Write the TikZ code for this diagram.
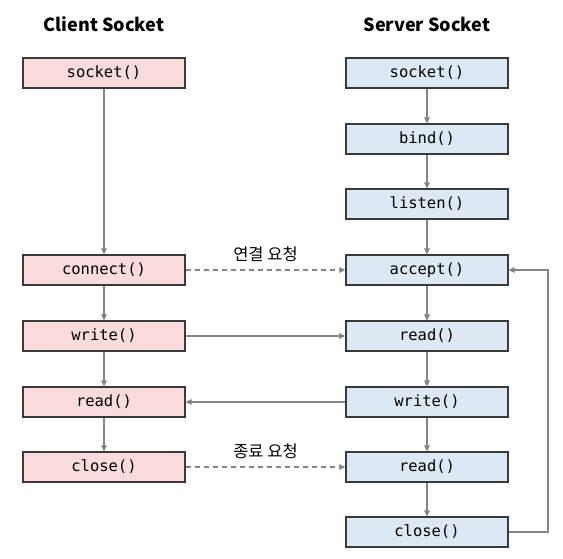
\documentclass[tikz,border=0pt]{standalone}
\usepackage{fontspec}
\setmainfont{Noto Sans CJK KR}
\newfontfamily\krfont{Noto Sans CJK KR}
\setmonofont{DejaVu Sans Mono}
\usetikzlibrary{arrows.meta}
\definecolor{cpink}{HTML}{FADBDC}
\definecolor{cblue}{HTML}{DCE8F4}
\definecolor{cborder}{HTML}{3A3A3A}
\definecolor{cline}{HTML}{858585}
\tikzset{
  fnbox/.style={draw=cborder, line width=1.1pt, minimum width=162pt, minimum height=30pt, inner sep=0pt, font=\ttfamily\fontsize{15.5}{17}\selectfont},
  cbox/.style={fnbox, fill=cpink},
  sbox/.style={fnbox, fill=cblue},
  conn/.style={draw=cline, line width=1.3pt, -{Triangle[length=6pt,width=5.5pt]}},
  dconn/.style={conn, dash pattern=on 5pt off 4pt},
  title/.style={font=\bfseries\fontsize{18}{20}\selectfont},
  lbl/.style={font=\krfont\fontsize{16.5}{18}\selectfont}
}
\begin{document}
\begin{tikzpicture}[x=1pt,y=-1pt]
\fill[white] (0,0) rectangle (563,559);
\useasboundingbox (0,0) rectangle (563,559);
\node[title] (tc) at (104,24) {Client Socket};
\node[title] (ts) at (427,24) {Server Socket};
% client
\node[cbox] (csock) at (104,73) {socket()};
\node[cbox] (cconn) at (104,270) {connect()};
\node[cbox] (cwrite) at (104,336) {write()};
\node[cbox] (cread) at (104,402) {read()};
\node[cbox] (cclose) at (104,467) {close()};
% server
\node[sbox] (ssock) at (427,73) {socket()};
\node[sbox] (sbind) at (427,139) {bind()};
\node[sbox] (slisten) at (427,204) {listen()};
\node[sbox] (saccept) at (427,270) {accept()};
\node[sbox] (sread) at (427,336) {read()};
\node[sbox] (swrite) at (427,402) {write()};
\node[sbox] (sread2) at (427,467) {read()};
\node[sbox] (sclose) at (427,532) {close()};
% vertical
\draw[conn] (csock) -- (cconn);
\draw[conn] (cconn) -- (cwrite);
\draw[conn] (cwrite) -- (cread);
\draw[conn] (cread) -- (cclose);
\draw[conn] (ssock) -- (sbind);
\draw[conn] (sbind) -- (slisten);
\draw[conn] (slisten) -- (saccept);
\draw[conn] (saccept) -- (sread);
\draw[conn] (sread) -- (swrite);
\draw[conn] (swrite) -- (sread2);
\draw[conn] (sread2) -- (sclose);
% horizontal
\draw[dconn] (cconn) -- (saccept) node[midway, above=4pt, lbl] (l1) {연결 요청};
\draw[conn] (cwrite) -- (sread);
\draw[conn] (swrite) -- (cread);
\draw[dconn] (cclose) -- (sread2) node[midway, above=4pt, lbl] (l2) {종료 요청};
% loop
\coordinate (lb) at (548,532);
\coordinate (lt) at (548,270);
\draw[conn] (sclose.east) -- (lb) -- (lt) -- (saccept.east);
\end{tikzpicture}
\end{document}
